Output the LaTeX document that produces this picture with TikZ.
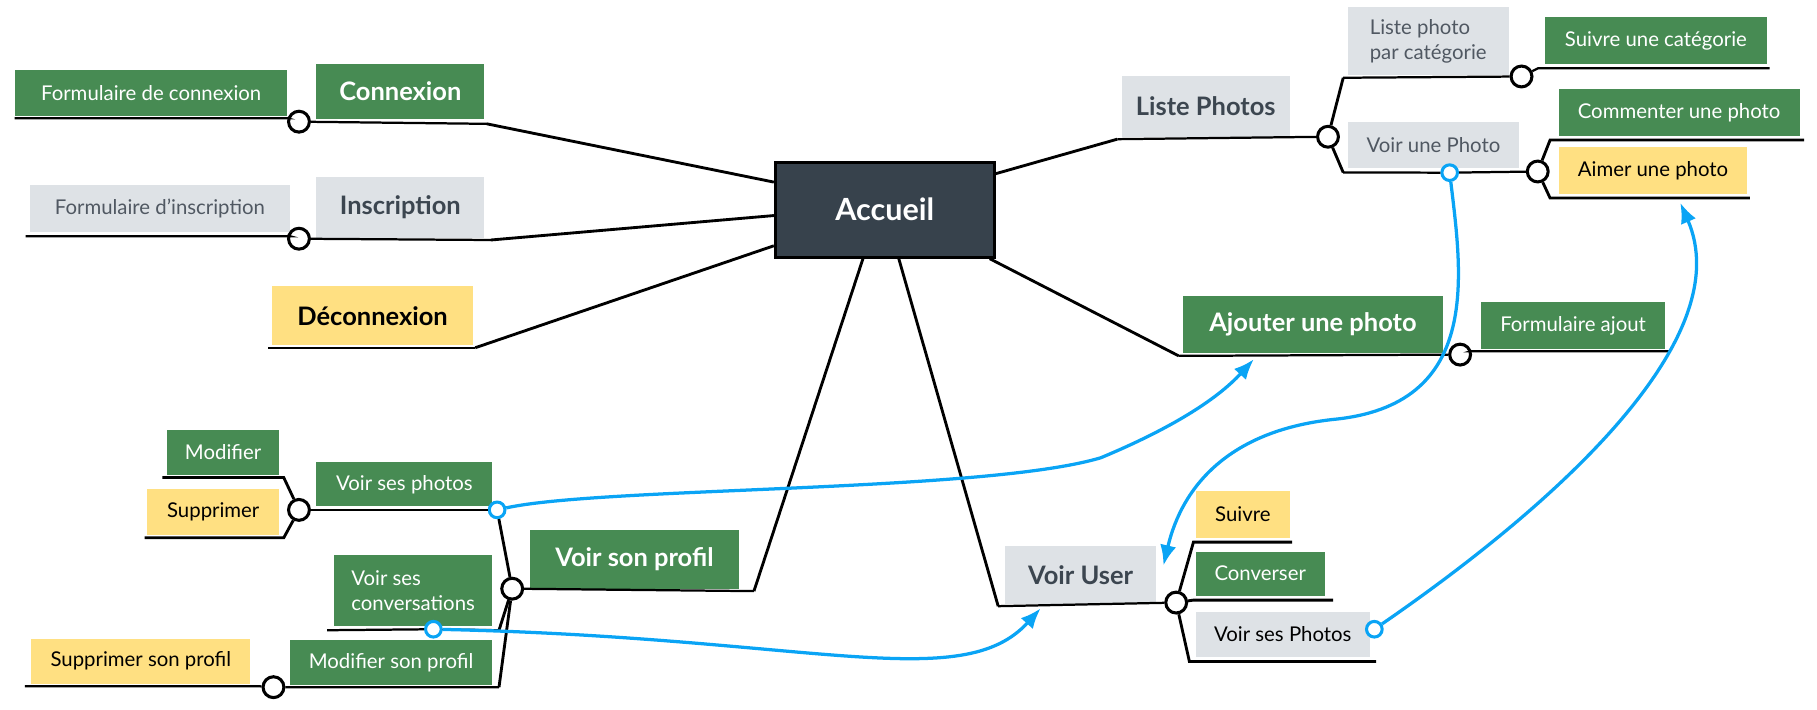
\documentclass[tikz,border=0pt]{standalone}
\usepackage{fontspec}
\setmainfont{Lato}
\usepackage{tikz}
\usetikzlibrary{shapes, arrows.meta}
\definecolor{leaf}{RGB}{71,139,83}
\definecolor{mist}{RGB}{222,226,230}
\definecolor{sun}{RGB}{255,224,130}
\definecolor{slate}{RGB}{55,66,76}
\definecolor{ink}{RGB}{60,70,80}
\definecolor{dim}{RGB}{80,88,98}
\definecolor{linkblue}{RGB}{10,164,245}
\newcommand{\smalltxt}{\fontsize{10}{12.5}\selectfont}
\newcommand{\bigtxt}{\fontsize{12.5}{15}\selectfont\bfseries}
\newcommand{\roottxt}{\fontsize{15}{18}\selectfont\bfseries}
\tikzstyle{gcell} = [rectangle, fill=leaf, text=white, inner sep=0pt, font=\smalltxt]
\tikzstyle{scell} = [rectangle, fill=mist, text=dim, inner sep=0pt, font=\smalltxt]
\tikzstyle{ycell} = [rectangle, fill=sun, text=black, inner sep=0pt, font=\smalltxt]
\tikzstyle{big} = [font=\bigtxt]
\tikzstyle{root} = [rectangle, draw, line width=1.4pt, fill=slate, text=white, font=\roottxt]
\tikzstyle{knob} = [circle, draw, line width=1.5pt, fill=white, inner sep=0pt, minimum size=0.36cm]
\tikzstyle{bknob} = [circle, draw=linkblue, line width=1.5pt, fill=white, inner sep=0pt, minimum size=0.27cm]
\tikzstyle{branch} = [draw, line width=1.4pt]
\tikzstyle{uline} = [draw, line width=1.1pt]
\tikzstyle{link} = [draw=linkblue, line width=1.6pt, -{Latex[length=10pt,width=8pt]}]

\begin{document}
\begin{tikzpicture}[x=0.02cm, y=-0.02cm]
    \useasboundingbox (0,0) rectangle (1568,612);

    \node[root, minimum width=3.78cm, minimum height=1.64cm] (acc) at (763.5,181) {Accueil};

    % left
    \node[gcell, big, minimum width=2.9cm, minimum height=0.96cm] (conn) at (345.5,79) {Connexion};
    \node[gcell, minimum width=4.7cm, minimum height=0.8cm] (fconn) at (130.5,80) {Formulaire de connexion};
    \node[scell, big, text=ink, minimum width=2.9cm, minimum height=1.04cm] (insc) at (345.5,179) {Inscription};
    \node[scell, minimum width=4.48cm, minimum height=0.8cm] (finsc) at (138,180) {Formulaire d'inscription};
    \node[ycell, big, minimum width=3.46cm, minimum height=1.02cm] (deco) at (321.5,272.5) {Déconnexion};

    % right
    \node[scell, big, text=ink, minimum width=2.9cm, minimum height=1.04cm] (liste) at (1040.5,92) {Liste Photos};
    \node[scell, align=left, minimum width=2.78cm, minimum height=1.18cm] (lcat) at (1232.5,35.5) {Liste photo\\par catégorie};
    \node[gcell, minimum width=3.84cm, minimum height=0.8cm] (scat) at (1429,35) {Suivre une catégorie};
    \node[scell, minimum width=2.96cm, minimum height=0.8cm] (vphoto) at (1237,125) {Voir une Photo};
    \node[gcell, minimum width=4.16cm, minimum height=0.8cm] (comm) at (1449,97) {Commenter une photo};
    \node[ycell, minimum width=3.26cm, minimum height=0.8cm] (aimer) at (1426.5,147) {Aimer une photo};
    \node[gcell, big, minimum width=4.48cm, minimum height=1.0cm] (ajout) at (1133,280) {Ajouter une photo};
    \node[gcell, minimum width=3.18cm, minimum height=0.8cm] (fajout) at (1357.5,281) {Formulaire ajout};

    % bottom
    \node[gcell, big, minimum width=3.62cm, minimum height=1.02cm] (profil) at (547.5,482.5) {Voir son profil};
    \node[gcell, minimum width=3.04cm, minimum height=0.76cm] (vsp) at (349,418) {Voir ses photos};
    \node[gcell, minimum width=1.94cm, minimum height=0.78cm] (modif) at (192.5,390.5) {Modifier};
    \node[ycell, minimum width=2.28cm, minimum height=0.8cm] (suppr) at (184,442) {Supprimer};
    \node[gcell, align=left, minimum width=2.74cm, minimum height=1.22cm] (vconv) at (356.5,509.5) {Voir ses\\conversations};
    \node[gcell, minimum width=3.5cm, minimum height=0.78cm] (mprof) at (337.5,571.5) {Modifier son profil};
    \node[ycell, minimum width=3.78cm, minimum height=0.78cm] (sprof) at (121.5,570.5) {Supprimer son profil};
    \node[scell, big, text=ink, minimum width=2.62cm, minimum height=1.0cm] (vuser) at (932.5,496) {Voir User};
    \node[ycell, minimum width=1.62cm, minimum height=0.8cm] (suivre) at (1072.5,444) {Suivre};
    \node[gcell, minimum width=2.22cm, minimum height=0.76cm] (conv) at (1087.5,495) {Converser};
    \node[scell, text=black, minimum width=3.0cm, minimum height=0.78cm] (vuphotos) at (1107,547.5) {Voir ses Photos};

    % knobs
    \node[knob] (kconn) at (258,105) {};
    \node[knob] (kinsc) at (258,206) {};
    \node[knob] (kliste) at (1146,118) {};
    \node[knob] (klcat) at (1313,66) {};
    \node[knob] (kvphoto) at (1327,148) {};
    \node[knob] (kajout) at (1260,306) {};
    \node[knob] (kprofil) at (442,508) {};
    \node[knob] (kvsp) at (258,440) {};
    \node[knob] (kmprof) at (236,593) {};
    \node[knob] (kvuser) at (1015,520) {};
    \node[bknob] (bvphoto) at (1251,149) {};
    \node[bknob] (bvsp) at (429,440) {};
    \node[bknob] (bvconv) at (374,543) {};
    \node[bknob] (bvuphotos) at (1186,543) {};

    \coordinate (tajout) at (1082,310);
    \coordinate (tvuser) at (1004,488);
    \coordinate (tvconv) at (898,525);
    \coordinate (taimer) at (1450,175);

    % left branches
    \path[branch] (acc.166) -- ([shift={(1pt,-2pt)}]conn.south east);
    \path[uline] ([shift={(1pt,-2pt)}]conn.south east) -- (kconn);
    \path[uline] (kconn) -- ([yshift=-1pt]fconn.south east) -- ([yshift=-1pt]fconn.south west);
    \path[branch] (acc.183) -- ([shift={(3pt,-1pt)}]insc.south east);
    \path[uline] ([shift={(3pt,-1pt)}]insc.south east) -- (kinsc);
    \path[uline] (kinsc) -- ([yshift=-2pt]finsc.south east) -- ([shift={(-2pt,-2pt)}]finsc.south west);
    \path[branch] (acc.198) -- ([shift={(1pt,-1pt)}]deco.south east);
    \path[uline] ([shift={(1pt,-1pt)}]deco.south east) -- ([shift={(-2pt,-1pt)}]deco.south west);

    % right branches
    \path[branch] (acc.18) -- ([shift={(-2pt,-1pt)}]liste.south west);
    \path[uline] ([shift={(-2pt,-1pt)}]liste.south west) -- (kliste);
    \path[branch] (kliste) -- ([shift={(-2pt,-1pt)}]lcat.south west);
    \path[uline] ([shift={(-2pt,-1pt)}]lcat.south west) -- (klcat);
    \path[uline] (klcat) -- ([shift={(-3pt,-2pt)}]scat.south west) -- ([shift={(1pt,-2pt)}]scat.south east);
    \path[branch] (kliste) -- ([shift={(-2pt,-2pt)}]vphoto.south west);
    \path[uline] ([shift={(-2pt,-2pt)}]vphoto.south west) -- (bvphoto);
    \path[uline] (bvphoto) -- (kvphoto);
    \path[branch] (kvphoto) -- ([shift={(-4pt,-2pt)}]comm.south west) -- ([shift={(2pt,-2pt)}]comm.south east);
    \path[branch] (kvphoto) -- ([shift={(-4pt,-2pt)}]aimer.south west) -- ([shift={(1pt,-2pt)}]aimer.south east);
    \path[branch] (acc.335) -- ([shift={(-2pt,-1pt)}]ajout.south west);
    \path[uline] ([shift={(-2pt,-1pt)}]ajout.south west) -- (kajout);
    \path[uline] (kajout) -- ([shift={(-5pt,-1pt)}]fajout.south west) -- ([shift={(2pt,-1pt)}]fajout.south east);

    % profil
    \path[branch] (acc.246) -- ([shift={(7pt,-1pt)}]profil.south east);
    \path[uline] ([shift={(7pt,-1pt)}]profil.south east) -- (kprofil);
    \path[branch] (kprofil) -- (bvsp);
    \path[uline] (bvsp) -- (kvsp);
    \path[branch] (kvsp) -- ([shift={(2pt,-1pt)}]modif.south east) -- ([shift={(-2pt,-1pt)}]modif.south west);
    \path[branch] (kvsp) -- ([shift={(2pt,-1pt)}]suppr.south east) -- ([shift={(-1pt,-1pt)}]suppr.south west);
    \path[branch] (kprofil) -- ([shift={(3pt,-2pt)}]vconv.south east);
    \path[uline] ([shift={(3pt,-2pt)}]vconv.south east) -- (bvconv);
    \path[uline] (bvconv) -- ([shift={(-3pt,-2pt)}]vconv.south west);
    \path[branch] (kprofil) -- ([shift={(3pt,-1pt)}]mprof.south east);
    \path[uline] ([shift={(3pt,-1pt)}]mprof.south east) -- (kmprof);
    \path[uline] (kmprof) -- ([shift={(3pt,-1pt)}]sprof.south east) -- ([shift={(-3pt,-1pt)}]sprof.south west);

    % voir user
    \path[branch] (acc.286) -- ([shift={(-3pt,-1pt)}]vuser.south west);
    \path[uline] ([shift={(-3pt,-1pt)}]vuser.south west) -- (kvuser);
    \path[branch] (kvuser) -- ([shift={(-1pt,-2pt)}]suivre.south west) -- ([shift={(1pt,-2pt)}]suivre.south east);
    \path[branch] (kvuser) -- ([shift={(-1pt,-2pt)}]conv.south west) -- ([shift={(4pt,-2pt)}]conv.south east);
    \path[branch] (kvuser) -- ([shift={(-3pt,-2pt)}]vuphotos.south west) -- ([shift={(3pt,-2pt)}]vuphotos.south east);

    % links
    \path[link] (bvsp) .. controls (520,420) and (850,425) .. (950,395) .. controls (1010,370) and (1050,345) .. (tajout);
    \path[link] (bvphoto) .. controls (1262,240) and (1278,350) .. (1150,362) .. controls (1060,372) and (1020,420) .. (tvuser);
    \path[link] (bvconv) .. controls (700,550) and (830,600) .. (tvconv);
    \path[link] (bvuphotos) .. controls (1350,430) and (1500,290) .. (taimer);
\end{tikzpicture}
\end{document}
